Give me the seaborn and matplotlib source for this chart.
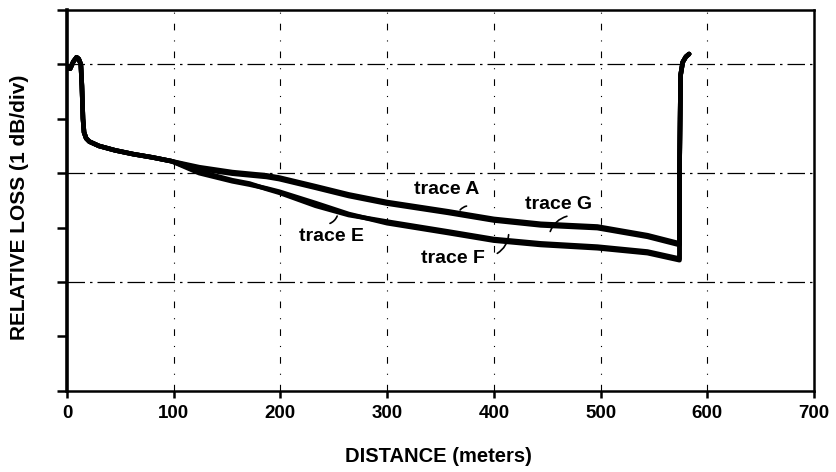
import numpy as np
import pandas as pd
import seaborn as sns
import matplotlib.pyplot as plt

# ============================================================
# DATA (loss in dB, 1 dB per division)
# ============================================================

launch_dist = [0, 3, 6, 9, 11, 13, 14, 15, 16, 18, 21, 30, 45, 62, 80, 98]
launch_loss = [5.95, 5.92, 6.05, 6.13, 6.10, 6.00, 5.60, 5.00, 4.75, 4.64,
               4.58, 4.50, 4.42, 4.35, 4.29, 4.22]

body_dist = [124, 155, 171, 187, 199, 233, 264, 300, 357, 400, 444, 497, 544, 574]
loss_A = [4.11, 4.02, 3.99, 3.96, 3.92, 3.76, 3.61, 3.47, 3.30, 3.16, 3.07, 3.02, 2.86, 2.71]
loss_G = [4.08, 3.99, 3.96, 3.93, 3.89, 3.73, 3.58, 3.44, 3.27, 3.13, 3.04, 2.99, 2.83, 2.68]
loss_E = [4.03, 3.87, 3.81, 3.71, 3.64, 3.40, 3.23, 3.11, 2.93, 2.79, 2.71, 2.65, 2.56, 2.43]
loss_F = [4.00, 3.85, 3.79, 3.72, 3.66, 3.45, 3.25, 3.08, 2.90, 2.76, 2.68, 2.62, 2.53, 2.40]

end_dist = [574, 575, 577, 580, 583]
end_loss = [4.00, 5.80, 6.04, 6.14, 6.19]

traces = {"A": loss_A, "G": loss_G, "E": loss_E, "F": loss_F}

x_ticks = [0, 100, 200, 300, 400, 500, 600, 700]
y_ticks = [0, 1, 2, 3, 4, 5, 6, 7]
grid_x = [100, 200, 300, 400, 500, 600]
grid_y = [2, 4, 6]

# label text, text position, arrow tip, arrow start
labels = [
    ("trace A", (356, 3.70), (367, 3.28), (377, 3.40)),
    ("trace G", (461, 3.43), (452, 2.88), (471, 3.22)),
    ("trace E", (248, 2.84), (254, 3.26), (244, 3.06)),
    ("trace F", (362, 2.43), (414, 2.92), (401, 2.50)),
]

# ============================================================
# PLOT
# ============================================================

rows = []
for name, loss in traces.items():
    d = launch_dist + body_dist + end_dist
    l = launch_loss + loss + end_loss
    for i, (xx, yy) in enumerate(zip(d, l)):
        rows.append({"trace": name, "order": i, "distance": xx, "loss": yy})
df = pd.DataFrame(rows)

sns.set_theme(style="ticks")
plt.rcParams["font.family"] = ["Liberation Sans", "DejaVu Sans"]
plt.rcParams["font.weight"] = "bold"
plt.rcParams["text.color"] = "black"
plt.rcParams["axes.labelcolor"] = "black"
plt.rcParams["xtick.color"] = "black"
plt.rcParams["ytick.color"] = "black"

fig = plt.figure(figsize=(8.37, 4.72), dpi=100)
ax = fig.add_axes([0.080, 0.172, 0.8925, 0.807])

# grid lines (dash-dot like the scan)
for gy in grid_y:
    ax.axhline(gy, color="black", lw=0.9, ls=(0, (14, 4, 2, 4)), zorder=1)
for gx in grid_x:
    ax.axvline(gx, color="black", lw=0.8, ls=(0, (6, 9, 1, 9)), zorder=1)

for name in traces:
    sub = df[df["trace"] == name]
    sns.lineplot(data=sub, x="distance", y="loss", sort=False, estimator=None,
                 color="black", lw=3.3, ax=ax, zorder=3)

for text, pos, tip, start in labels:
    ax.text(pos[0], pos[1], text, ha="center", va="center",
            fontsize=14, fontweight="bold", color="black")
    ax.annotate("", xy=tip, xytext=start,
                arrowprops=dict(arrowstyle="-", color="black", lw=1.2,
                                connectionstyle="arc3,rad=0.3"))

ax.set_xlim(0, 700)
ax.set_ylim(0, 7)
ax.set_xticks(x_ticks)
ax.set_yticks(y_ticks)
ax.set_yticklabels([])
ax.tick_params(axis="x", direction="out", length=5, width=1.8, labelsize=13.5, pad=5)
ax.tick_params(axis="y", direction="out", length=7, width=1.8)
for lab in ax.get_xticklabels():
    lab.set_fontweight("bold")

for side in ["left", "right", "top", "bottom"]:
    ax.spines[side].set_visible(True)
    ax.spines[side].set_color("black")
    ax.spines[side].set_linewidth(1.8)
ax.spines["left"].set_linewidth(2.6)

ax.set_xlabel("DISTANCE (meters)", fontsize=14.5, fontweight="bold")
ax.set_ylabel("RELATIVE LOSS (1 dB/div)", fontsize=15, fontweight="bold")
ax.xaxis.label.set_va("center")
ax.yaxis.label.set_va("center")
ax.xaxis.set_label_coords(0.497, -0.173)
ax.yaxis.set_label_coords(-0.063, 0.483)

fig.savefig("out.png", dpi=100, facecolor="white")
